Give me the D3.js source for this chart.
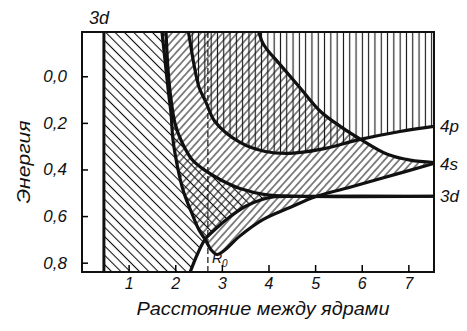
<!DOCTYPE html>
<html>
<head>
<meta charset="utf-8">
<script src="https://cdn.jsdelivr.net/npm/d3@7"></script>
<style>
  body { margin: 0; background: #fff; }
  svg text { font-family: "Liberation Sans", Arial, sans-serif; font-style: italic; fill: #111; }
</style>
</head>
<body>
<svg width="467" height="331"></svg>
<script>
// band edges vs. internuclear distance: [R, energy], energy grows downward
const edge3dUpper = [[1.80,-0.20],[1.845,-0.03],[1.91,0.10],[2.00,0.206],[2.146,0.284],[2.36,0.357],
  [2.64,0.404],[2.96,0.443],[3.39,0.482],[3.93,0.508],[4.6,0.515],[7.55,0.515]];
const edge3dLower = [[2.25,0.875],[2.32,0.84],[2.47,0.766],[2.64,0.70],[2.85,0.658],[3.18,0.602],
  [3.50,0.559],[3.86,0.529],[4.14,0.517],[4.6,0.515],[7.55,0.515]];
const edge4sUpper = [[3.78,-0.20],[3.86,-0.15],[3.95,-0.12],[4.25,-0.05],[4.68,0.05],[5.11,0.15],
  [5.54,0.215],[5.97,0.27],[6.55,0.335],[7.04,0.36],[7.55,0.37]];
const edge4sLower = [[1.71,-0.20],[1.78,-0.07],[1.85,0.06],[1.91,0.16],[1.95,0.27],[2.04,0.38],
  [2.17,0.49],[2.34,0.58],[2.51,0.66],[2.64,0.70],[2.77,0.745],[2.90,0.765],[3.05,0.748],
  [3.39,0.685],[3.88,0.615],[4.46,0.563],[5.02,0.516],[5.64,0.482],[6.39,0.44],[7.55,0.374]];
const edge4pLower = [[2.275,-0.20],[2.32,-0.146],[2.40,-0.052],[2.51,0.047],[2.66,0.112],[2.85,0.194],
  [3.39,0.284],[3.93,0.323],[4.46,0.331],[5.11,0.314],[5.97,0.271],[6.82,0.237],[7.55,0.215]];
const rWall = 0.47;   // steep 3d edge at small R
const r0 = 2.70;      // equilibrium distance
const xTicks = [1, 2, 3, 4, 5, 6, 7];
const yTicks = [0, 0.2, 0.4, 0.6, 0.8];
const yTickLabels = ["0,0", "0,2", "0,4", "0,6", "0,8"];
const levelNames = ["4p", "4s", "3d"];

const svg = d3.select("svg"),
    margin = {top: 32, right: 33, bottom: 59, left: 82},
    width = +svg.attr("width") - margin.left - margin.right,
    height = +svg.attr("height") - margin.top - margin.bottom;

const x = d3.scaleLinear().domain([0, 7.55]).range([0, width]),
    y = d3.scaleLinear().domain([-0.19, 0.84]).range([0, height]);

const defs = svg.append("defs");
defs.append("clipPath").attr("id", "plot")
  .append("rect").attr("width", width).attr("height", height);

// hatch: parallel lines, rotated
function hatch(id, step, angle, w) {
  const p = defs.append("pattern")
      .attr("id", id)
      .attr("patternUnits", "userSpaceOnUse")
      .attr("width", step).attr("height", step)
      .attr("patternTransform", "rotate(" + angle + ")");
  p.append("line")
      .attr("x1", step / 2).attr("x2", step / 2)
      .attr("y1", -1).attr("y2", step + 1)
      .attr("stroke", "#111").attr("stroke-width", w);
}
hatch("h3d", 6.6, -45, 1.1);
hatch("h4s", 5.4, 42, 1.0);
hatch("h4p", 6.3, 0, 1.1);

const g = svg.append("g")
    .attr("transform", "translate(" + margin.left + "," + margin.top + ")");

const curve = d3.line()
    .x(function(d) { return x(d[0]); })
    .y(function(d) { return y(d[1]); })
    .curve(d3.curveCatmullRom.alpha(0.5));
const cont = function(pts) { return curve(pts).replace(/^M/, "L"); };
const pt = function(r, e) { return x(r) + "," + y(e); };
const rev = function(a) { return a.slice().reverse(); };

const bands = g.append("g").attr("clip-path", "url(#plot)");

// 3d band: between the wall, upper and lower 3d edges
bands.append("path")
    .attr("d", "M" + pt(rWall, -0.20) + cont(edge3dUpper) + cont(rev(edge3dLower)) +
      "L" + pt(rWall, edge3dLower[0][1]) + "Z")
    .attr("fill", "url(#h3d)");

// 4s band
bands.append("path")
    .attr("d", curve(edge4sLower) + cont(rev(edge4sUpper)) + "Z")
    .attr("fill", "url(#h4s)");

// 4p band, open to the top
bands.append("path")
    .attr("d", curve(edge4pLower) + "L" + pt(7.8, 0.215) + "L" + pt(7.8, -0.3) +
      "L" + pt(2.2, -0.3) + "Z")
    .attr("fill", "url(#h4p)");

// edges
[edge3dUpper, edge3dLower, edge4sUpper, edge4sLower, edge4pLower].forEach(function(e) {
  bands.append("path")
      .attr("d", curve(e))
      .attr("fill", "none")
      .attr("stroke", "#111")
      .attr("stroke-width", 3.2)
      .attr("stroke-linejoin", "round");
});

bands.append("line")
    .attr("x1", x(rWall)).attr("x2", x(rWall))
    .attr("y1", 0).attr("y2", height)
    .attr("stroke", "#111").attr("stroke-width", 3);

bands.append("line")
    .attr("x1", x(r0)).attr("x2", x(r0))
    .attr("y1", 0).attr("y2", height)
    .attr("stroke", "#111").attr("stroke-width", 1.2)
    .attr("stroke-dasharray", "6,3");

// frame
g.append("rect")
    .attr("width", width).attr("height", height)
    .attr("fill", "none").attr("stroke", "#111").attr("stroke-width", 2);

g.append("g")
    .attr("transform", "translate(0," + height + ")")
    .call(d3.axisBottom(x).tickValues(xTicks).tickSize(-7).tickPadding(6).tickFormat(d3.format("d")))
    .attr("font-size", 16)
    .call(function(a) { a.select(".domain").remove(); })
    .call(function(a) { a.selectAll("line").attr("stroke-width", 1.5); });

g.append("g")
    .call(d3.axisLeft(y).tickValues(yTicks).tickSize(-6).tickPadding(15)
      .tickFormat(function(d, i) { return yTickLabels[i]; }))
    .attr("font-size", 17)
    .call(function(a) { a.select(".domain").remove(); })
    .call(function(a) { a.selectAll("line").attr("stroke-width", 1.5); });

// level names at large R
[edge4pLower, edge4sLower, edge3dLower].forEach(function(e, i) {
  g.append("text")
      .attr("x", width + 6)
      .attr("y", y(e[e.length - 1][1]))
      .attr("dy", "0.36em")
      .attr("font-size", 17)
      .text(levelNames[i]);
});

g.append("text")
    .attr("x", x(rWall) - 15)
    .attr("y", -8)
    .attr("font-size", 18)
    .text("3d");

const r0Label = g.append("text")
    .attr("x", x(r0) + 4)
    .attr("y", height - 9)
    .attr("font-size", 14)
    .text("R");
r0Label.append("tspan")
    .attr("dy", 4)
    .attr("font-size", 10)
    .text("0");

svg.append("text")
    .attr("x", 263).attr("y", 315)
    .attr("text-anchor", "middle")
    .attr("font-size", 19)
    .attr("textLength", 253).attr("lengthAdjust", "spacingAndGlyphs")
    .text("Расстояние между ядрами");

svg.append("text")
    .attr("transform", "translate(30,162) rotate(-90)")
    .attr("text-anchor", "middle")
    .attr("font-size", 19)
    .attr("textLength", 83).attr("lengthAdjust", "spacingAndGlyphs")
    .text("Энергия");
</script>
</body>
</html>
